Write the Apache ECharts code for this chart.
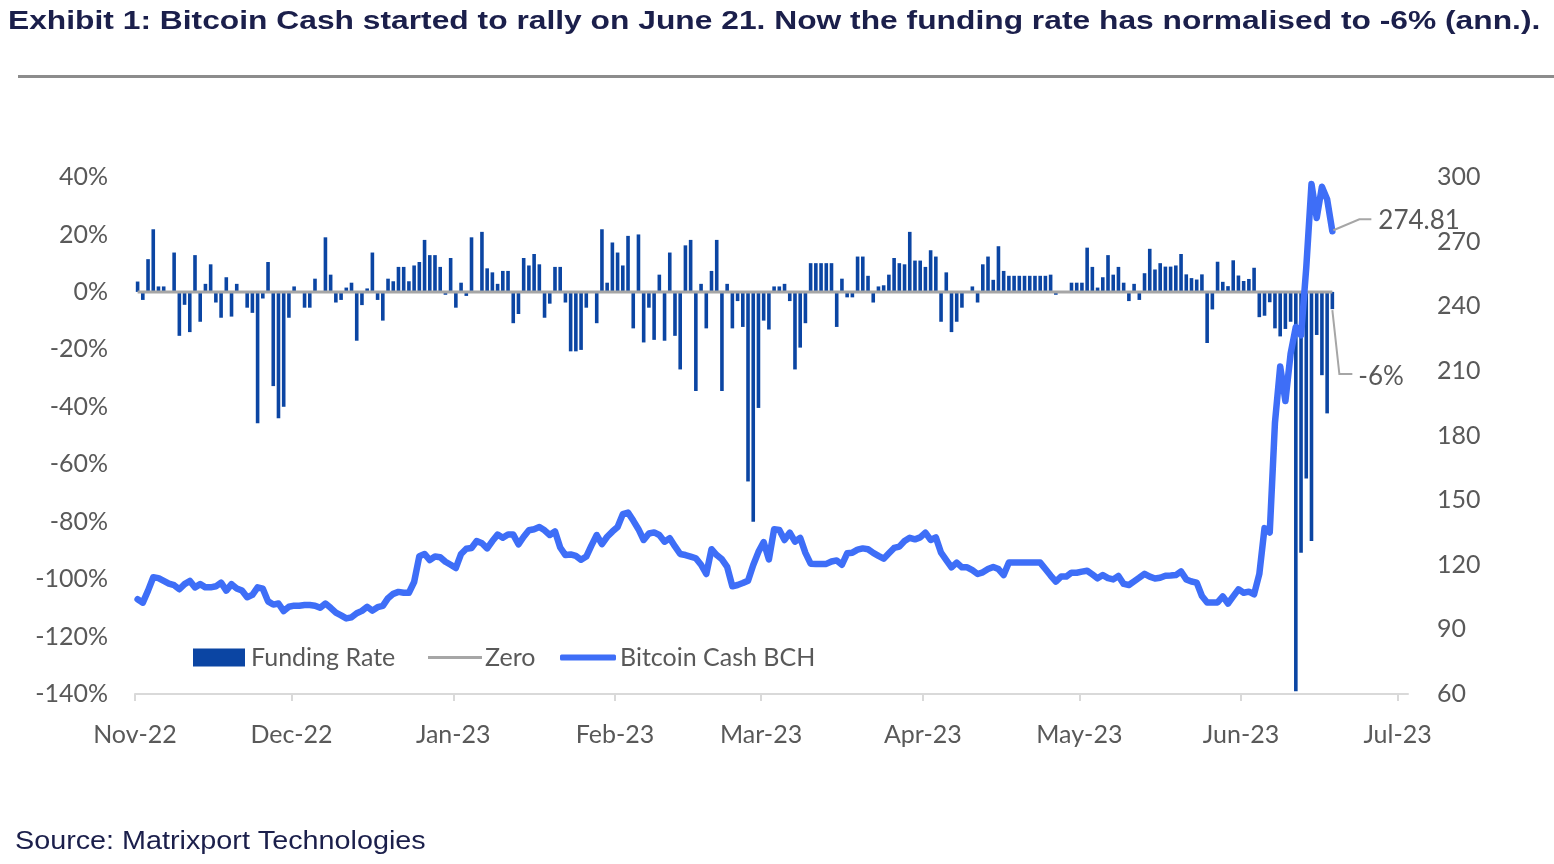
<!DOCTYPE html>
<html><head><meta charset="utf-8">
<script src="https://cdn.jsdelivr.net/npm/echarts@6/dist/echarts.min.js"></script>
<style>html,body{margin:0;padding:0;background:#fff}#c{width:1554px;height:864px}</style>
</head><body><div id="c"></div>
<script>
// ---- DATA ----
const titleText = 'Exhibit 1: Bitcoin Cash started to rally on June 21. Now the funding rate has normalised to -6% (ann.).';
const sourceText = 'Source: Matrixport Technologies';
const startDate = '2022-11-01';          // first day of the series (daily data)
const axisEnd = '2023-07-03';            // end of the date axis
const monthTicks = ['2022-11-01','2022-12-01','2023-01-01','2023-02-01','2023-03-01','2023-04-01','2023-05-01','2023-06-01','2023-07-01'];
const monthLabels = ['Nov-22','Dec-22','Jan-23','Feb-23','Mar-23','Apr-23','May-23','Jun-23','Jul-23'];

// Funding rate (annualised, %), one value per day from startDate
const fundingRate = [
 3.6,-2.8,11.4,21.8,1.9,1.9,0,13.7,-15.3,-4.5,
 -14,12.8,-10.4,2.8,9.6,-3.7,-9,5.1,-8.6,2.8,
 0,-5.5,-7.3,-45.7,-2.3,10.4,-32.8,-44,-40,-9,
 1.9,0,-5.5,-5.5,4.6,0,19,6,-3.7,-2.8,
 1.5,3.2,-17,-4.6,1.2,13.7,-2.8,-10,4.6,3.7,
 8.7,8.7,3.7,9.2,10.4,18.1,12.8,12.8,8.7,-1,
 11.8,-5.5,3.2,-1.4,19,0,20.9,8.2,6.8,2.8,
 7.3,7.3,-10.9,-7.7,11.8,9.2,13.2,9.6,-9,-4.1,
 8.7,8.7,-3.7,-20.7,-20.7,-20.2,-5.5,0,-10.9,21.8,
 3.2,17.2,13.7,9.2,19.5,-12.7,20,-17.6,-5.5,-16.7,
 6,-17,13.7,-15.3,-27,16.2,18.1,-34.5,2.8,-12.7,
 7.3,18.1,-34.5,2.8,-12.7,-3.2,-12.2,-66,-80,-40.4,
 -10,-13.1,1.9,1.9,2.8,-3.2,-27,-19.4,-10.9,10,
 10,10,10,10,-12.2,4.6,-1.9,-1.9,12.3,12.3,
 5.6,-3.7,1.9,2.3,6,11.8,10,9.6,20.9,10.9,
 10.9,8.7,14.5,12.3,-10.4,6.8,-14,-10.4,-5.5,0,
 1.9,-3.7,9.6,12.3,4.2,15.9,7.3,5.6,5.6,5.6,
 5.6,5.6,5.6,5.6,5.6,6,-1,0,0,3.2,
 3.2,3.2,15.4,8.7,1.5,5.1,12.8,6,8.7,3.2,
 -3.2,2.8,-2.8,6.5,15,7.8,10,8.8,8.8,9.2,
 13.2,6.1,4.8,4.3,6.1,-17.8,-6.1,10.5,3.5,2,
 11,5.7,3.8,4.5,8.4,-8.8,-8.3,-3.6,-12.7,-15.5,
 -12.9,-10.4,-139,-90.8,-65,-86.7,-15,-29,-42.3,-6
];

// Bitcoin Cash (BCH) price, USD, one value per day from startDate
const bchPrice = [
 104,102.4,108,114.2,113.8,112.5,111.2,110.5,108.6,111,
 112.5,109.5,111,109.5,109.5,110,111.7,108,111,109,
 108,104.9,106,109.5,108.9,103,101.5,102,98.5,100.5,
 101,101,101.3,101.3,101,100,102,100,97.8,96.5,
 95.1,95.6,97.5,98.6,100.5,98.7,100.3,100.9,104.5,106.5,
 107.4,107,107,112,124,125,122.2,123.8,123.5,121.4,
 120,118.5,125,127.4,127.8,131,130,127.6,131,134,
 132.5,134,134,129.5,133,136,136.5,137.5,136,133.8,
 135.5,128,124.5,124.8,124.1,122.3,123.8,129,133.8,129.6,
 133,135.4,137.5,143.5,144.2,140.5,136.5,131.5,134.5,135,
 133.8,130.7,132.3,128.5,125,124.5,123.8,123,120,115.7,
 127.2,124.5,122.5,119,110,110.6,111.5,112.6,119.9,126,
 130.5,122.5,136.5,136.1,131.5,134.9,130.7,132.5,125.5,120.5,
 120.4,120.4,120.4,121.5,122,120,125.3,125.6,127,127.6,
 127.2,125.5,124.1,122.8,125.3,127.8,128.4,131,132.5,131.8,
 132.7,134.9,131.5,132.7,125.6,122.2,118.8,121,118.8,118.8,
 117.5,115.7,116.5,118,119,118,115.2,121,121,121,
 121,121,121,121,118,115,112.2,114.5,114.5,116.3,
 116.3,116.8,117.2,115.5,113.7,115.2,113.8,113.2,114.8,111.1,
 110.6,112.3,114,115.8,114.5,113.6,114,114.9,115,115.2,
 116.9,113.2,112.2,111.7,105.5,102.5,102.5,102.5,105.3,102,
 105.3,108.6,107,107.5,106.3,115.7,137,135,186,212,
 196,218,230.4,226.5,258,296.7,281,295.5,289.7,274.81
];

// ---- helpers ----
function dayOffset(s){
  const [y,m,d] = s.split('-').map(Number);
  const [y0,m0,d0] = startDate.split('-').map(Number);
  return (Date.UTC(y,m-1,d) - Date.UTC(y0,m0-1,d0)) / 86400000;
}
const tickDays = monthTicks.map(dayOffset);
const labelOf = {}; tickDays.forEach((d,i)=>labelOf[d]=monthLabels[i]);
// each day occupies a band on the date axis; points sit in the middle of the band
const fundingData = fundingRate.map((v,i)=>[i+0.5, v]);
const zeroData = fundingRate.map((v,i)=>[i+0.5, 0]);
const bchData = bchPrice.map((v,i)=>[i+0.5, v]);

const FONT = 'Lato';
const GREY = '#595959';
const NAVY = '#1b1f4b';
const BAR = '#0b45a3';
const LINE = '#3e6ef7';
const ZERO = '#a6a6a6';

const chart = echarts.init(document.getElementById('c'), null, {renderer:'canvas'});
const baseGraphics = [
  {type:'text', x:8, y:9, scaleX:1.222, style:{text:titleText, font:'bold 26px "Liberation Sans"', fill:NAVY}},
  {type:'rect', shape:{x:18, y:75, width:1536, height:3}, style:{fill:'#8c8c8c'}, silent:true},
  {type:'text', x:15, y:830, scaleX:1.15, style:{text:sourceText, font:'25px "Liberation Sans"', fill:NAVY}}
];
const legendText = {fontFamily:FONT, fontSize:25, color:GREY};
const option = {
  animation:false,
  backgroundColor:'#fff',
  textStyle:{fontFamily:FONT},
  graphic:baseGraphics,
  legend:[
    {data:['Funding Rate'], left:188, top:640, itemWidth:52, itemHeight:18, icon:'rect', itemGap:0,
     textStyle:Object.assign({padding:[0,0,0,1]}, legendText)},
    {data:['Zero'], left:423, top:640, itemWidth:54, itemHeight:3, icon:'rect', itemGap:0,
     textStyle:Object.assign({padding:[0,0,0,-2]}, legendText)},
    {data:['Bitcoin Cash BCH'], left:555, top:640, itemWidth:56, itemHeight:6, icon:'roundRect', itemGap:0,
     textStyle:Object.assign({padding:[0,0,0,-1]}, legendText)}
  ],
  grid:{left:135, right:146, top:177, bottom:170, containLabel:false},
  xAxis:{
    type:'value', min:0, max:dayOffset(axisEnd),
    splitLine:{show:false},
    axisLine:{show:true, onZero:false, lineStyle:{color:'#d9d9d9', width:2}},
    axisTick:{show:true, customValues:tickDays, length:7, inside:false, lineStyle:{color:'#d9d9d9', width:2}},
    axisLabel:{customValues:tickDays, formatter:v=>labelOf[v]||'', margin:28,
      fontFamily:FONT, fontSize:25, color:GREY}
  },
  yAxis:[
    {type:'value', min:-140, max:40, interval:20, position:'left',
     splitLine:{show:false}, axisLine:{show:false}, axisTick:{show:false},
     axisLabel:{formatter:'{value}%', margin:27, fontFamily:FONT, fontSize:25, color:GREY}},
    {type:'value', min:60, max:300, interval:30, position:'right',
     splitLine:{show:false}, axisLine:{show:false}, axisTick:{show:false},
     axisLabel:{margin:29, fontFamily:FONT, fontSize:25, color:GREY}}
  ],
  series:[
    {name:'Funding Rate', type:'bar', xAxisIndex:0, yAxisIndex:0, data:fundingData,
     barWidth:3.6, itemStyle:{color:BAR}, z:2},
    {name:'Zero', type:'line', xAxisIndex:0, yAxisIndex:0, data:zeroData, symbol:'none',
     lineStyle:{color:ZERO, width:3}, itemStyle:{color:ZERO}, z:3},
    {name:'Bitcoin Cash BCH', type:'line', xAxisIndex:0, yAxisIndex:1, data:bchData, symbol:'none',
     lineStyle:{color:LINE, width:6.5, cap:'round', join:'round'}, itemStyle:{color:LINE}, z:4}
  ]
};
chart.setOption(option);

// annotations for the last values, positioned through the chart's own scales
const last = bchPrice.length-1;
const pB = chart.convertToPixel({xAxisIndex:0, yAxisIndex:1}, [last+0.5, bchPrice[last]]);
const pF = chart.convertToPixel({xAxisIndex:0, yAxisIndex:0}, [last+0.5, fundingRate[last]]);
chart.setOption({graphic:baseGraphics.concat([
  {type:'polyline', shape:{points:[[pB[0]+1,pB[1]-1],[pB[0]+27,pB[1]-12],[pB[0]+39,pB[1]-12]]},
   style:{stroke:ZERO, lineWidth:2, fill:null}, z:10},
  {type:'text', x:pB[0]+46, y:pB[1]-11, style:{text:bchPrice[last].toFixed(2), font:'26px '+FONT, fill:GREY, textVerticalAlign:'middle', textAlign:'left'}, z:10},
  {type:'polyline', shape:{points:[[pF[0],pF[1]+1],[pF[0]+7,pF[1]+65],[pF[0]+20,pF[1]+65]]},
   style:{stroke:ZERO, lineWidth:2, fill:null}, z:10},
  {type:'text', x:pF[0]+26, y:pF[1]+67, style:{text:Math.round(fundingRate[last])+'%', font:'26px '+FONT, fill:GREY, textVerticalAlign:'middle', textAlign:'left'}, z:10}
])}, {replaceMerge:['graphic']});
</script></body></html>
